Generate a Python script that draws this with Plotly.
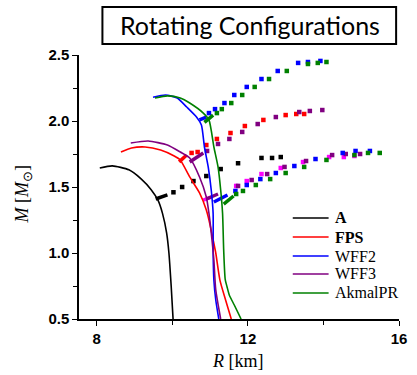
import plotly.graph_objects as go

# ---------------- static (non-rotating) M-R curves ----------------
A_R = [8.08, 8.41, 8.85, 9.18, 9.44, 9.62, 9.74, 9.85, 9.91, 9.97, 10.02]
A_M = [1.644, 1.66, 1.63, 1.56, 1.48, 1.40, 1.30, 1.15, 1.0, 0.75, 0.5]

FPS_R = [8.64, 8.92, 9.28, 9.69, 10.05, 10.21, 10.46, 10.72, 10.90, 10.97, 11.08, 11.15, 11.26, 11.41, 11.56]
FPS_M = [1.765, 1.795, 1.803, 1.78, 1.735, 1.705, 1.576, 1.455, 1.326, 1.25, 1.10, 1.0, 0.795, 0.644, 0.5]

WFF2_R = [9.49, 9.82, 10.13, 10.38, 10.64, 10.77, 10.85, 10.95, 11.03, 11.08, 11.08, 11.10, 11.15, 11.23]
WFF2_M = [2.18, 2.197, 2.174, 2.106, 2.03, 1.97, 1.803, 1.652, 1.477, 1.30, 1.02, 0.795, 0.644, 0.5]

WFF3_R = [8.90, 9.36, 9.87, 10.21, 10.46, 10.72, 10.90, 10.97, 11.05, 11.10, 11.15, 11.28]
WFF3_M = [1.833, 1.848, 1.818, 1.765, 1.72, 1.576, 1.424, 1.30, 1.10, 0.947, 0.72, 0.5]

AKM_R = [9.54, 9.87, 10.21, 10.46, 10.82, 10.97, 11.10, 11.21, 11.28, 11.33, 11.36, 11.40, 11.45, 11.51, 11.64, 11.82]
AKM_M = [2.174, 2.19, 2.174, 2.136, 2.06, 2.008, 1.803, 1.652, 1.477, 1.30, 1.02, 0.80, 0.742, 0.68, 0.606, 0.5]

# ---------------- rotating sequences (thick start + dots) ----------------
A_rot_thick_R = [9.56, 9.87]
A_rot_thick_M = [1.409, 1.44]
A_rot_R = [10.03, 10.26, 10.56, 10.90, 11.28, 11.74, 12.36, 12.64, 12.87]
A_rot_M = [1.46, 1.50, 1.545, 1.583, 1.636, 1.68, 1.72, 1.72, 1.727]

FPS_up_thick_R = [10.18, 10.38]
FPS_up_thick_M = [1.69, 1.742]
FPS_up_R = [10.51, 10.67, 10.90, 11.18, 11.54, 11.92, 12.41, 13.0, 13.28, 13.49]
FPS_up_M = [1.758, 1.765, 1.818, 1.864, 1.909, 1.962, 2.008, 2.045, 2.053, 2.053]

WFF3_up_thick_R = [10.46, 10.82]
WFF3_up_thick_M = [1.69, 1.758]
WFF3_up_R = [10.92, 11.21, 11.51, 11.85, 12.26, 12.74, 13.36, 13.64, 13.97]
WFF3_up_M = [1.773, 1.826, 1.864, 1.917, 1.977, 2.03, 2.068, 2.076, 2.083]

WFF2_up_thick_R = [10.72, 10.90]
WFF2_up_thick_M = [2.008, 2.03]
WFF2_up_R = [10.97, 11.13, 11.38, 11.64, 11.97, 12.36, 12.79, 13.33, 13.59, 13.92]
WFF2_up_M = [2.06, 2.09, 2.136, 2.197, 2.258, 2.318, 2.379, 2.44, 2.447, 2.455]

AKM_up_thick_R = [10.85, 11.08]
AKM_up_thick_M = [1.99, 2.045]
AKM_up_R = [11.18, 11.31, 11.56, 11.85, 12.18, 12.56, 13.03, 13.59, 13.85, 14.08]
AKM_up_M = [2.06, 2.09, 2.136, 2.197, 2.258, 2.318, 2.379, 2.432, 2.44, 2.447]

FPS_lo_thick_R = [10.82, 11.03]
FPS_lo_thick_M = [1.40, 1.424]
FPS_lo_R = [11.69, 11.97, 12.36, 12.87, 13.46, 14.15, 14.54, 14.82]
FPS_lo_M = [1.508, 1.545, 1.598, 1.644, 1.689, 1.727, 1.727, 1.735]

WFF3_lo_thick_R = [10.90, 11.21]
WFF3_lo_thick_M = [1.409, 1.447]
WFF3_lo_R = [11.74, 12.10, 12.51, 12.97, 13.54, 14.23, 14.59, 14.97]
WFF3_lo_M = [1.508, 1.553, 1.598, 1.652, 1.697, 1.742, 1.75, 1.75]

WFF2_lo_thick_R = [11.10, 11.46]
WFF2_lo_thick_M = [1.386, 1.439]
WFF2_lo_R = [11.67, 11.97, 12.33, 12.74, 13.23, 13.79, 14.51, 14.85, 15.23]
WFF2_lo_M = [1.47, 1.515, 1.56, 1.606, 1.659, 1.712, 1.758, 1.773, 1.773]

AKM_lo_thick_R = [11.36, 11.62]
AKM_lo_thick_M = [1.371, 1.432]
AKM_lo_R = [11.69, 11.87, 12.21, 12.59, 13.0, 13.49, 14.08, 14.82, 15.18, 15.49]
AKM_lo_M = [1.447, 1.47, 1.515, 1.56, 1.606, 1.652, 1.705, 1.742, 1.758, 1.758]

NAMES = ["<b>A</b>", "<b>FPS</b>", "WFF2", "WFF3", "AkmalPR"]
X_TICKS = [8, 12, 16]
Y_TICKS = [0.5, 1.0, 1.5, 2.0, 2.5]

BLACK, RED, BLUE, PURPLE, GREEN, MAGENTA = "#000000", "#ff0000", "#0000ff", "#800080", "#008000", "#ff00ff"
LEGEND_COLORS = [BLACK, RED, BLUE, PURPLE, GREEN]

fig = go.Figure()

def thick(R, M, c):
    fig.add_trace(go.Scatter(x=R, y=M, mode="lines", line=dict(color=c, width=3.5),
                             showlegend=False, hoverinfo="skip"))

def dots(R, M, c):
    fig.add_trace(go.Scatter(x=R, y=M, mode="markers",
                             marker=dict(symbol="square", size=4.5, color=c, line=dict(width=0)),
                             showlegend=False, hoverinfo="skip"))

for (tR, tM, R, M, c) in [
    (A_rot_thick_R, A_rot_thick_M, A_rot_R, A_rot_M, BLACK),
    (FPS_up_thick_R, FPS_up_thick_M, FPS_up_R, FPS_up_M, RED),
    (WFF3_up_thick_R, WFF3_up_thick_M, WFF3_up_R, WFF3_up_M, PURPLE),
    (WFF2_up_thick_R, WFF2_up_thick_M, WFF2_up_R, WFF2_up_M, BLUE),
    (AKM_up_thick_R, AKM_up_thick_M, AKM_up_R, AKM_up_M, GREEN),
    (FPS_lo_thick_R, FPS_lo_thick_M, FPS_lo_R, FPS_lo_M, MAGENTA),
    (WFF3_lo_thick_R, WFF3_lo_thick_M, WFF3_lo_R, WFF3_lo_M, PURPLE),
    (WFF2_lo_thick_R, WFF2_lo_thick_M, WFF2_lo_R, WFF2_lo_M, BLUE),
    (AKM_lo_thick_R, AKM_lo_thick_M, AKM_lo_R, AKM_lo_M, GREEN),
]:
    thick(tR, tM, c)
    dots(R, M, c)

for name, R, M, c in [
    (NAMES[0], A_R, A_M, BLACK),
    (NAMES[1], FPS_R, FPS_M, RED),
    (NAMES[2], WFF2_R, WFF2_M, BLUE),
    (NAMES[3], WFF3_R, WFF3_M, PURPLE),
    (NAMES[4], AKM_R, AKM_M, GREEN),
]:
    fig.add_trace(go.Scatter(x=R, y=M, mode="lines", name=name, showlegend=False,
                             line=dict(color=c, width=1.6, shape="spline", smoothing=0.6)))

axis_common = dict(showgrid=False, zeroline=False, showline=True, linecolor="black", linewidth=1.5,
                   ticks="outside", ticklen=5, tickwidth=1.3, tickcolor="black",
                   tickfont=dict(family="Liberation Sans", size=15, color="black", weight="bold"),
                   mirror=False)

fig.update_layout(
    width=417, height=375,
    margin=dict(l=79, r=10, t=55, b=56),
    paper_bgcolor="white", plot_bgcolor="white",
    xaxis=dict(range=[7.53, 16], tickvals=X_TICKS, ticktext=[str(v) for v in X_TICKS],
               minor=dict(tickvals=[10, 14], ticks="outside", ticklen=4, tickcolor="black", tickwidth=1.3),
               **axis_common),
    yaxis=dict(range=[0.5, 2.5], tickvals=Y_TICKS, ticktext=[f"{v:.1f}" for v in Y_TICKS],
               minor=dict(tickvals=[0.75, 1.25, 1.75, 2.25], ticks="outside", ticklen=4, tickcolor="black", tickwidth=1.3),
               **axis_common),
    showlegend=False,
)

# legend drawn as line samples + labels (paper coordinates)
LEG_Y = [0.3826, 0.3106, 0.2386, 0.1705, 0.0985]
for name, c, ly in zip(NAMES, LEGEND_COLORS, LEG_Y):
    fig.add_shape(type="line", xref="paper", yref="paper", x0=0.668, x1=0.780, y0=ly, y1=ly,
                  line=dict(color=c, width=1.6))
    fig.add_annotation(text=name, xref="paper", yref="paper", x=0.793, y=ly,
                       xanchor="left", yanchor="middle", showarrow=False,
                       font=dict(family="Liberation Serif", size=16, color="black"))

# title box
fig.add_shape(type="rect", xref="paper", yref="paper", x0=0.0732, x1=0.991, y0=1.0417, y1=1.1818,
              line=dict(color="black", width=2), fillcolor="white")
fig.add_annotation(text="Rotating Configurations", xref="paper", yref="paper", x=0.534, y=1.112,
                   xanchor="center", yanchor="middle", showarrow=False,
                   font=dict(family="Lato", size=25, color="black"))

# axis titles
fig.add_annotation(text="<i>M</i> [<i>M</i><sub>⊙</sub>]", xref="paper", yref="paper", x=-0.174, y=0.473,
                   xanchor="center", yanchor="middle", textangle=-90, showarrow=False,
                   font=dict(family="Liberation Serif", size=18, color="black"))
fig.add_annotation(text="<i>R</i> [km]", xref="paper", yref="paper", x=0.497, y=-0.159,
                   xanchor="center", yanchor="middle", showarrow=False,
                   font=dict(family="Liberation Serif", size=18, color="black"))

fig.write_html("out.html")
